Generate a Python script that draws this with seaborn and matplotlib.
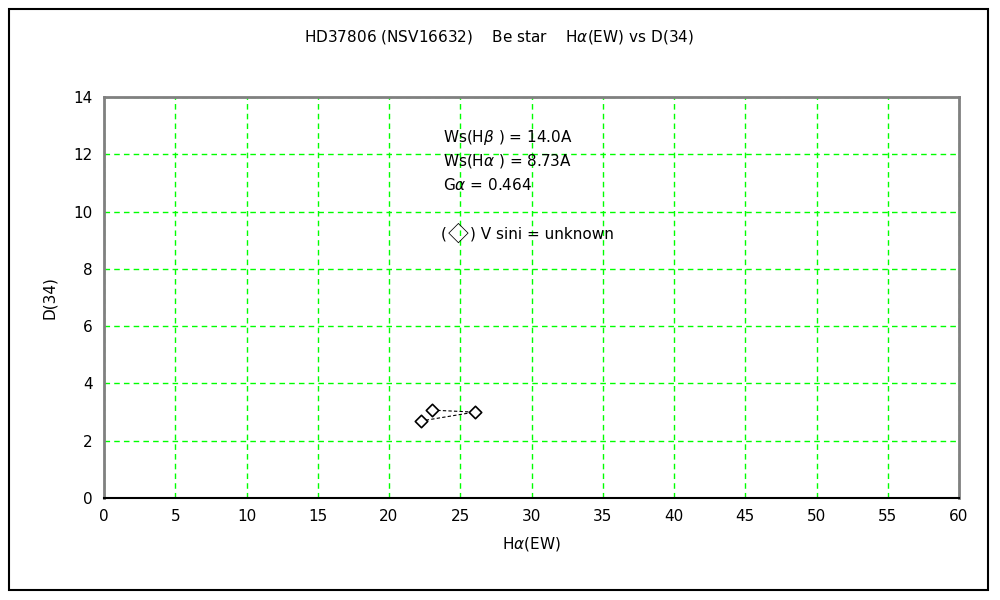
import matplotlib
matplotlib.use('Agg')
import matplotlib.pyplot as plt
from matplotlib.offsetbox import TextArea, HPacker, AnchoredOffsetbox
import seaborn as sns
import pandas as pd

# H-alpha EW vs D(34), in observation order
ha_ew = [23.0, 26.0, 22.25]
d34 = [3.07, 3.0, 2.69]

x_ticks = list(range(0, 61, 5))
y_ticks = list(range(0, 15, 2))

df = pd.DataFrame({'ew': ha_ew, 'd34': d34})

sns.set_style('white')
plt.rcParams['font.family'] = ['DejaVu Sans', 'Noto Sans CJK JP']
plt.rcParams['text.color'] = 'black'
plt.rcParams['axes.labelcolor'] = 'black'
plt.rcParams['mathtext.fontset'] = 'dejavusans'

fs = 11

fig = plt.figure(figsize=(10, 6), dpi=100)
ax = fig.add_axes([0.104, 0.17, 0.855, 0.668])

# outer frame
fig.patches.append(plt.Rectangle((0.009, 0.016), 0.979, 0.969, transform=fig.transFigure,
                                 fill=False, edgecolor='black', linewidth=1.5))

sns.lineplot(data=df, x='ew', y='d34', sort=False, estimator=None, ax=ax,
             color='black', linewidth=0.8, linestyle=(0, (3, 2)))
sns.scatterplot(data=df, x='ew', y='d34', ax=ax, marker='D', s=40,
                facecolor='white', edgecolor='black', linewidth=1.2, zorder=5)

ax.set_xlim(0, 60)
ax.set_ylim(0, 14)
ax.set_xticks(x_ticks)
ax.set_yticks(y_ticks)
ax.tick_params(direction='in', length=6, width=1, colors='black', labelsize=fs, pad=8)

ax.grid(True, color='#00ff00', linestyle=(0, (4, 3)), linewidth=1)
ax.set_axisbelow(True)

for side in ['top', 'right', 'left']:
    ax.spines[side].set_color('#808080')
    ax.spines[side].set_linewidth(2)
ax.spines['bottom'].set_color('black')
ax.spines['bottom'].set_linewidth(1.5)

ax.set_xlabel('H$\\alpha$(EW)', fontsize=fs, labelpad=8)
ax.set_ylabel('D(34)', fontsize=fs, labelpad=12)
fig.text(0.499, 0.938, 'HD37806 (NSV16632)    Be star    H$\\alpha$(EW) vs D(34)',
         ha='center', va='center', fontsize=fs)

ax.text(0.396, 0.900, 'Ws(H$\\beta$ ) = 14.0A', transform=ax.transAxes, fontsize=fs, va='center')
ax.text(0.396, 0.840, 'Ws(H$\\alpha$ ) = 8.73A', transform=ax.transAxes, fontsize=fs, va='center')
ax.text(0.396, 0.781, 'G$\\alpha$ = 0.464', transform=ax.transAxes, fontsize=fs, va='center')

# legend-like note with a big diamond
parts = [
    TextArea('(', textprops=dict(fontsize=fs, color='black')),
    TextArea('\u25c7', textprops=dict(fontsize=15, color='black', family='Noto Sans CJK JP')),
    TextArea(') V sini = unknown', textprops=dict(fontsize=fs, color='black')),
]
box = HPacker(children=parts, align='center', pad=0, sep=1)
anchored = AnchoredOffsetbox(loc='center left', child=box, pad=0, frameon=False,
                             bbox_to_anchor=(0.394, 0.658), bbox_transform=ax.transAxes,
                             borderpad=0)
ax.add_artist(anchored)

fig.savefig('out.png', dpi=100)
